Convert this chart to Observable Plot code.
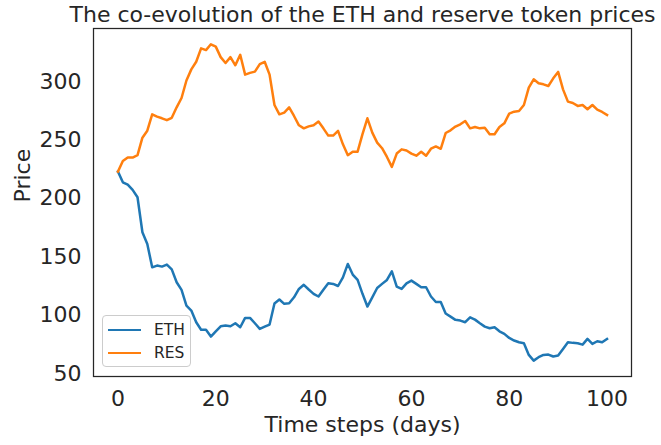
<!DOCTYPE html>
<html>
<head>
<meta charset="utf-8">
<script src="https://cdn.jsdelivr.net/npm/d3@7"></script>
<script src="https://cdn.jsdelivr.net/npm/@observablehq/plot@0.6"></script>
<style>
  html, body { margin: 0; padding: 0; background: white; }
  #wrap { position: relative; width: 661px; height: 445px; font-family: "DejaVu Sans", sans-serif; color: #262626; }
  #legend { position: absolute; left: 102px; top: 315px; width: 87px; height: 50px; border: 1px solid #cccccc; border-radius: 4px; background: rgba(255,255,255,0.85); box-sizing: content-box; }
  .row { position: absolute; left: 5px; height: 20px; display: flex; align-items: center; font-size: 15.5px; }
  .swatch { display: inline-block; width: 33px; height: 2.5px; margin-right: 13px; }
</style>
</head>
<body>
<div id="wrap"></div>
<script>
const title = "The co-evolution of the ETH and reserve token prices";
const xLabel = "Time steps (days)";
const yLabel = "Price";
const seriesNames = ["ETH", "RES"];
const seriesColors = ["#1f77b4", "#ff7f0e"];
const xTicks = [0, 20, 40, 60, 80, 100];
const yTicks = [50, 100, 150, 200, 250, 300];

const eth = [223, 213.8, 211.8, 207.3, 201, 171, 161, 141, 142.5, 141.6,
  143.3, 139.2, 128.2, 121.7, 108.2, 104, 94, 87.5, 87.5, 81.7,
  86.2, 90.5, 91.1, 90.5, 93.1, 89.7, 97.7, 97.7, 93.1, 88.3,
  90.2, 92, 110, 113.4, 109.7, 110.2, 115.3, 122.5, 126, 122,
  118.3, 116, 121.7, 127.3, 126.8, 125, 132.4, 143.9, 134.8, 130.2,
  118.3, 107.4, 115.3, 123.3, 126.8, 130.2, 137.6, 124.5, 122.5, 127.3,
  129.6, 126.8, 123.9, 123.9, 116, 111.3, 111.3, 101.4, 98.8, 96,
  95.4, 94, 98.2, 96.2, 93.1, 90.2, 88.8, 89.7, 86.2, 84,
  80.5, 78.3, 76.8, 76, 66, 61.1, 64, 66, 66.3, 64.6,
  65.4, 71.1, 76.8, 76.3, 76, 74.8, 79.7, 75.4, 77.7, 76.8,
  79.7];

const res = [223, 232, 235, 235, 237, 252, 258, 272, 270, 268.6,
  267, 269, 278, 286, 301, 310.5, 317, 328.5, 327, 332,
  330, 321, 316, 321, 314, 323, 306, 307.5, 308.6, 315,
  317, 306, 280, 272, 273.5, 278, 270.6, 262.6, 260, 261.7,
  262.6, 265.8, 260, 253.8, 253.8, 257.8, 246.3, 237, 240, 240,
  255, 268.6, 256.3, 247.8, 243, 235.5, 227, 238.4, 242, 241,
  238.4, 236.6, 240, 236.6, 242.6, 244.5, 242.5, 256, 258.3, 261.5,
  263.5, 266.3, 260, 261.2, 260, 260.6, 254.9, 254.9, 261.2, 264.3,
  272.6, 274.3, 274.9, 280, 294.9, 302, 298.6, 297.7, 296.3, 302.8,
  308.3, 293.4, 282.9, 281.7, 279.2, 280, 276.3, 280, 276, 274,
  271.5];

const days = eth.map((_, i) => i);
const rows = [
  ...days.map((d, i) => ({day: d, price: eth[i], series: seriesNames[0]})),
  ...days.map((d, i) => ({day: d, price: res[i], series: seriesNames[1]}))
];

const FS = 22;
const chart = Plot.plot({
  width: 661,
  height: 445,
  marginTop: 28,
  marginBottom: 69,
  marginLeft: 93,
  marginRight: 30,
  style: {fontFamily: "DejaVu Sans", fontSize: FS + "px", color: "#262626", background: "white"},
  x: {domain: [-5, 105]},
  y: {domain: [47.5, 345.5]},
  color: {domain: seriesNames, range: seriesColors},
  marks: [
    Plot.axisX({ticks: xTicks, tickSize: 0, tickPadding: 14, label: null, fontSize: FS}),
    Plot.axisY({ticks: yTicks, tickSize: 0, tickPadding: 12, label: null, fontSize: FS}),
    Plot.line(rows, {x: "day", y: "price", stroke: "series", z: "series", strokeWidth: 2.5, strokeLinejoin: "round", strokeLinecap: "square"}),
    Plot.frame({stroke: "#262626", strokeWidth: 1.25}),
    Plot.text([title], {frameAnchor: "top", dy: -14, lineAnchor: "middle", fontSize: FS, fill: "#262626"}),
    Plot.text([xLabel], {frameAnchor: "bottom", dy: 48, lineAnchor: "middle", fontSize: FS, fill: "#262626"}),
    Plot.text([yLabel], {frameAnchor: "left", dx: -71, rotate: -90, lineAnchor: "middle", fontSize: FS, fill: "#262626"})
  ]
});

const wrap = document.getElementById("wrap");
wrap.appendChild(chart);

const legend = document.createElement("div");
legend.id = "legend";
seriesNames.forEach((name, i) => {
  const row = document.createElement("div");
  row.className = "row";
  row.style.top = (4 + i * 23) + "px";
  const sw = document.createElement("span");
  sw.className = "swatch";
  sw.style.background = seriesColors[i];
  const label = document.createElement("span");
  label.textContent = name;
  row.appendChild(sw);
  row.appendChild(label);
  legend.appendChild(row);
});
wrap.appendChild(legend);
</script>
</body>
</html>
